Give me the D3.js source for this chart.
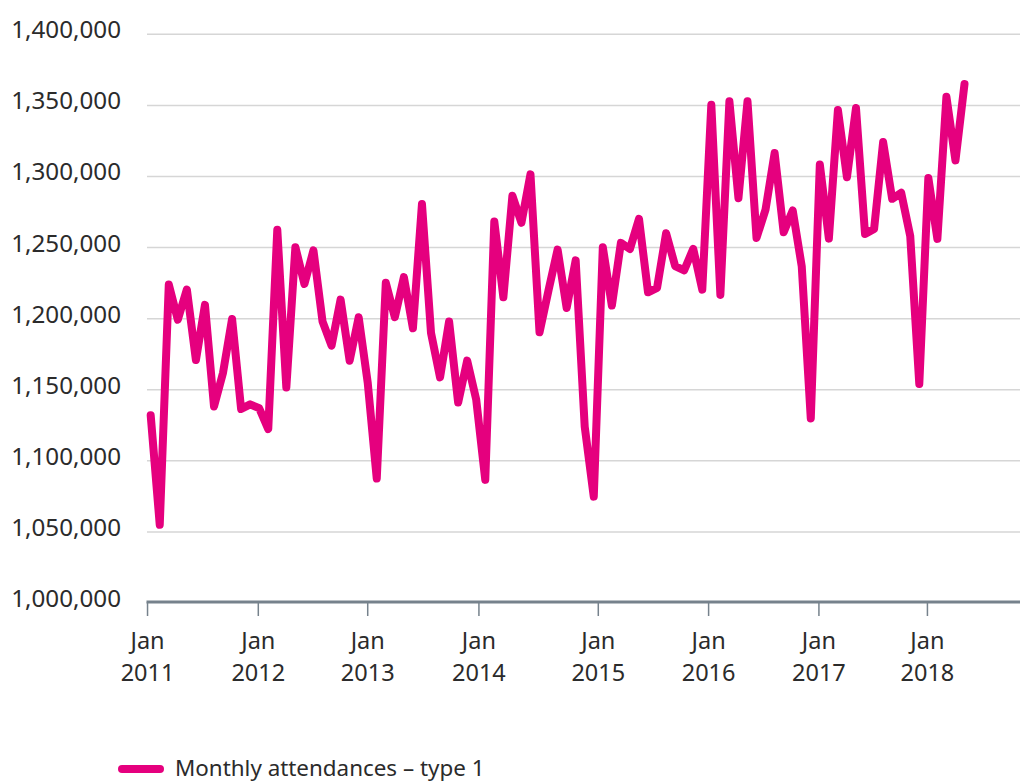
<!DOCTYPE html>
<html>
<head>
<meta charset="utf-8">
<script src="https://cdn.jsdelivr.net/npm/d3@7"></script>
<style>
  body { margin: 0; background: #fff; }
  svg text { font-family: "Noto Sans", "Open Sans", sans-serif; fill: #2b2b2b; }
</style>
</head>
<body>
<div id="chart"></div>
<script>
// monthly values (one per month from Jan 2011)
var attendances = [
  1132000, 1055000, 1224000, 1199300, 1220500, 1170900, 1209700, 1138200, 1162000, 1199800,
  1136400, 1139700, 1137000, 1122300, 1262500, 1151600, 1250300, 1224400, 1248000, 1198100,
  1181000, 1213400, 1170400, 1201000, 1155000, 1087500, 1225200, 1201000, 1229200, 1193200,
  1280600, 1190000, 1158700, 1198000, 1141000, 1170500, 1143000, 1086600, 1268400, 1215000,
  1286400, 1267400, 1301500, 1190400, 1220000, 1248600, 1207500, 1241000, 1124000, 1074800,
  1250300, 1209200, 1253300, 1249000, 1270200, 1218500, 1221600, 1260100, 1237000, 1234000,
  1249100, 1220400, 1350500, 1216700, 1352900, 1284700, 1352900, 1256800, 1276800, 1316500,
  1260800, 1276100, 1236800, 1129800, 1308500, 1256300, 1346800, 1299500, 1348200, 1259500,
  1263000, 1324200, 1284300, 1288500, 1258000, 1154000, 1299000, 1256100, 1356000, 1311300,
  1365000
];
var seriesName = "Monthly attendances \u2013 type 1";

// x ticks sit at these positions along the month index
var tickPos = [-0.35, 11.9, 24, 36.3, 49.5, 61.7, 73.9, 85.9];
var tickMonth = ["Jan", "Jan", "Jan", "Jan", "Jan", "Jan", "Jan", "Jan"];
var tickYear = ["2011", "2012", "2013", "2014", "2015", "2016", "2017", "2018"];

var yTicks = [1000000, 1050000, 1100000, 1150000, 1200000, 1250000, 1300000, 1350000, 1400000];

var width = 1020, height = 784;

var svg = d3.select("#chart").append("svg")
    .attr("width", width)
    .attr("height", height);

var x = d3.scaleLinear().domain([0, 90]).range([150.7, 964.5]);
var y = d3.scaleLinear().domain([1000000, 1400000]).range([603, 34.3]);

var fmt = d3.format(",");

// gridlines
svg.append("g")
    .selectAll("line")
    .data(yTicks.slice(1))
  .enter().append("line")
    .attr("x1", 147)
    .attr("x2", width)
    .attr("y1", function(d) { return y(d); })
    .attr("y2", function(d) { return y(d); })
    .attr("stroke", "#d6d6d6")
    .attr("stroke-width", 1.5);

// y labels
svg.append("g")
    .selectAll("text")
    .data(yTicks)
  .enter().append("text")
    .attr("x", 121)
    .attr("y", function(d) { return y(d) + 4; })
    .attr("text-anchor", "end")
    .style("font-size", "24.2px")
    .text(function(d) { return fmt(d); });

// x axis
var xAxis = svg.append("g")
    .attr("transform", "translate(0,602)");
xAxis.append("line")
    .attr("x1", 146.5)
    .attr("x2", width)
    .attr("stroke", "#76828c")
    .attr("stroke-width", 3);

var tick = xAxis.selectAll(".tick")
    .data(tickPos)
  .enter().append("g")
    .attr("class", "tick")
    .attr("transform", function(d) { return "translate(" + x(d) + ",0)"; });
tick.append("line")
    .attr("y1", 0)
    .attr("y2", 14)
    .attr("stroke", "#76828c")
    .attr("stroke-width", 1.5);
tick.append("text")
    .attr("y", 47)
    .attr("text-anchor", "middle")
    .style("font-size", "23.5px")
    .text(function(d, i) { return tickMonth[i]; });
tick.append("text")
    .attr("y", 79)
    .attr("text-anchor", "middle")
    .style("font-size", "23.5px")
    .text(function(d, i) { return tickYear[i]; });

// the line
var valueline = d3.line()
    .x(function(d, i) { return x(i); })
    .y(function(d) { return y(d); });

svg.append("path")
    .datum(attendances)
    .attr("d", valueline)
    .attr("fill", "none")
    .attr("stroke", "#e5007e")
    .attr("stroke-width", 8)
    .attr("stroke-linejoin", "round")
    .attr("stroke-linecap", "round");

// legend (kept just inside the bottom edge)
var legend = svg.append("g").attr("transform", "translate(0,769)");
legend.append("line")
    .attr("x1", 122)
    .attr("x2", 160)
    .attr("stroke", "#e5007e")
    .attr("stroke-width", 8)
    .attr("stroke-linecap", "round");
legend.append("text")
    .attr("x", 175)
    .attr("y", 7)
    .style("font-size", "22.4px")
    .text(seriesName);
</script>
</body>
</html>
